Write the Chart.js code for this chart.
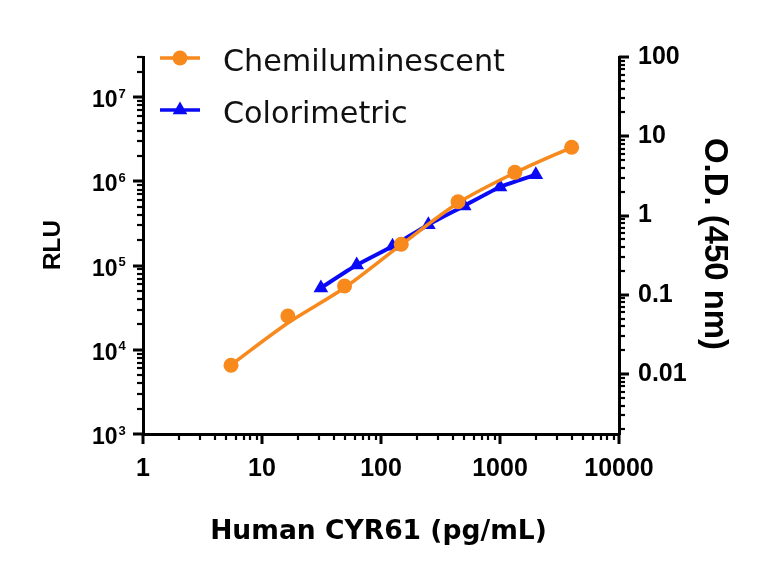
<!DOCTYPE html>
<html>
<head>
<meta charset="utf-8">
<script src="https://cdn.jsdelivr.net/npm/chart.js@4.4.1/dist/chart.umd.min.js"></script>
<style>
  html, body { margin: 0; padding: 0; background: #fff; }
  canvas { display: block; }
</style>
</head>
<body>
<canvas id="chart" width="768" height="564" style="width:768px;height:564px"></canvas>
<script>
// data
const chemiConc = [5.49, 16.5, 49.4, 148, 444, 1333, 4000];
const chemiRLU = [6550, 25200, 57300, 179000, 574000, 1280000, 2540000];
// fitted curve as drawn in the picture (passes a little below the 16.5 point)
const chemiFitRLU = [6600, 20800, 54500, 177000, 555000, 1265000, 2540000];
const colorConc = [31.25, 62.5, 125, 250, 500, 1000, 2000];
const colorOD = [0.122, 0.237, 0.41, 0.766, 1.32, 2.29, 3.27];

const xTicks = [1, 10, 100, 1000, 10000];
const rluTicks = [1e3, 1e4, 1e5, 1e6, 1e7];
const odTicks = [0.01, 0.1, 1, 10, 100];

const ORANGE = '#f8891d';
const BLUE = '#0a0af5';
const TICK_FONT = "'Liberation Sans Narrow', 'Liberation Sans', Arial, sans-serif";
const LEFT_FONT = "'Liberation Sans', Arial, sans-serif";
const TITLE_FONT = "'DejaVu Sans', sans-serif";
const LEGEND_FONT = "'DejaVu Sans', sans-serif";

function fitSize(ctx, text, width, weight, family) {
    ctx.font = `${weight} 40px ${family}`;
    return 40 * width / ctx.measureText(text).width;
}

// minor + major tick marks on every axis
const tickMarks = {
    id: 'tickMarks',
    afterDraw(chart) {
        const ctx = chart.ctx;
        ctx.save();
        ctx.strokeStyle = '#000';
        for (const id of ['x', 'y', 'y1']) {
            const s = chart.scales[id];
            const lo = Math.floor(Math.log10(s.min));
            const hi = Math.ceil(Math.log10(s.max));
            for (let e = lo; e <= hi; e++) {
                for (let k = 1; k <= 9; k++) {
                    const v = k * Math.pow(10, e);
                    if (v < s.min * 0.999 || v > s.max * 1.001) continue;
                    const major = k === 1;
                    const len = major ? 10 : 6;
                    ctx.lineWidth = major ? 3 : 2.2;
                    const p = Math.round(s.getPixelForValue(v));
                    ctx.beginPath();
                    if (id === 'x') {
                        ctx.moveTo(p, s.top); ctx.lineTo(p, s.top + len);
                    } else if (id === 'y') {
                        ctx.moveTo(s.right, p); ctx.lineTo(s.right - len, p);
                    } else {
                        ctx.moveTo(s.left, p); ctx.lineTo(s.left + len, p);
                    }
                    ctx.stroke();
                }
            }
        }
        ctx.restore();
    }
};

// 10^n labels, axis titles and legend
const decorations = {
    id: 'decorations',
    afterDraw(chart) {
        const ctx = chart.ctx;
        const ys = chart.scales.y;
        ctx.save();
        ctx.fillStyle = '#000';
        ctx.textAlign = 'left';
        ctx.textBaseline = 'alphabetic';
        rluTicks.forEach(v => {
            const p = ys.getPixelForValue(v);
            ctx.font = `bold 23px ${LEFT_FONT}`;
            ctx.fillText('10', 92, p + 10);
            ctx.font = `bold 13px ${LEFT_FONT}`;
            ctx.fillText(String(Math.round(Math.log10(v))), 118.5, p + 0.5);
        });

        // axis titles
        ctx.textAlign = 'center';
        let fs = fitSize(ctx, 'Human CYR61 (pg/mL)', 337, 'bold', TITLE_FONT);
        ctx.font = `bold ${fs}px ${TITLE_FONT}`;
        ctx.fillText('Human CYR61 (pg/mL)', 378.5, 539);

        fs = fitSize(ctx, 'RLU', 50, 'bold', TICK_FONT);
        ctx.font = `bold ${fs}px ${TICK_FONT}`;
        ctx.save();
        ctx.translate(60, 245);
        ctx.rotate(-Math.PI / 2);
        ctx.fillText('RLU', 0, 0);
        ctx.restore();

        fs = fitSize(ctx, 'O.D. (450 nm)', 212, 'bold', TICK_FONT);
        ctx.font = `bold ${fs}px ${TICK_FONT}`;
        ctx.save();
        ctx.translate(705, 244);
        ctx.rotate(Math.PI / 2);
        ctx.fillText('O.D. (450 nm)', 0, 0);
        ctx.restore();

        // legend
        const items = [
            { text: 'Chemiluminescent', color: ORANGE, style: 'circle', r: 7.5, y: 58, base: 71 },
            { text: 'Colorimetric', color: BLUE, style: 'triangle', r: 8.5, y: 110, base: 123 }
        ];
        fs = fitSize(ctx, 'Chemiluminescent', 282, 'normal', LEGEND_FONT);
        items.forEach(it => {
            ctx.strokeStyle = it.color;
            ctx.fillStyle = it.color;
            ctx.lineWidth = 3.5;
            ctx.beginPath();
            ctx.moveTo(160, it.y);
            ctx.lineTo(200, it.y);
            ctx.stroke();
            Chart.helpers.drawPoint(ctx, { pointStyle: it.style, radius: it.r, borderWidth: 0 }, 180, it.y);
            ctx.fillStyle = '#111';
            ctx.textAlign = 'left';
            ctx.font = `normal ${fs}px ${LEGEND_FONT}`;
            ctx.fillText(it.text, 223, it.base);
        });
        ctx.restore();
    }
};

const chemiData = chemiConc.map((c, i) => ({ x: c, y: chemiRLU[i] }));
const chemiFit = chemiConc.map((c, i) => ({ x: c, y: chemiFitRLU[i] }));
const colorData = colorConc.map((c, i) => ({ x: c, y: colorOD[i] }));

new Chart(document.getElementById('chart').getContext('2d'), {
    type: 'line',
    data: {
        datasets: [
            {
                label: 'Chemiluminescent',
                data: chemiData,
                yAxisID: 'y',
                showLine: false,
                backgroundColor: ORANGE,
                borderColor: ORANGE,
                pointStyle: 'circle',
                pointRadius: 7.5,
                pointBorderWidth: 0
            },
            {
                label: 'Chemiluminescent fit',
                data: chemiFit,
                yAxisID: 'y',
                borderColor: ORANGE,
                borderWidth: 3.5,
                pointRadius: 0,
                tension: 0.3
            },
            {
                label: 'Colorimetric',
                data: colorData,
                yAxisID: 'y1',
                borderColor: BLUE,
                backgroundColor: BLUE,
                borderWidth: 4,
                pointStyle: 'triangle',
                pointRadius: 8.5,
                pointBorderWidth: 0,
                tension: 0.2
            }
        ]
    },
    options: {
        responsive: false,
        animation: false,
        devicePixelRatio: 1,
        layout: { padding: { top: 57, left: 0, right: 0, bottom: 0 } },
        plugins: {
            legend: { display: false },
            tooltip: { enabled: false }
        },
        scales: {
            x: {
                type: 'logarithmic',
                min: 1,
                max: 10000,
                afterBuildTicks: s => { s.ticks = xTicks.map(v => ({ value: v })); },
                afterFit: s => { s.height = 130; },
                grid: { display: false, drawTicks: false },
                border: { display: true, color: '#000', width: 3 },
                ticks: {
                    color: '#000',
                    padding: 20,
                    autoSkip: false,
                    maxRotation: 0,
                    font: { family: TICK_FONT, size: 25, weight: 'bold' },
                    callback: v => String(v)
                }
            },
            y: {
                type: 'logarithmic',
                position: 'left',
                min: 1000,
                max: 3e7,
                afterBuildTicks: s => { s.ticks = rluTicks.map(v => ({ value: v })); },
                afterFit: s => { s.width = 143; },
                grid: { display: false, drawTicks: false },
                border: { display: true, color: '#000', width: 3 },
                ticks: { display: false }
            },
            y1: {
                type: 'logarithmic',
                position: 'right',
                min: 0.00175,
                max: 100,
                afterBuildTicks: s => { s.ticks = odTicks.map(v => ({ value: v })); },
                afterFit: s => { s.width = 149; },
                grid: { display: false, drawTicks: false },
                border: { display: true, color: '#000', width: 3 },
                ticks: {
                    color: '#000',
                    padding: 19,
                    autoSkip: false,
                    font: { family: TICK_FONT, size: 25, weight: 'bold' },
                    callback: v => String(v)
                }
            }
        }
    },
    plugins: [tickMarks, decorations]
});
</script>
</body>
</html>
